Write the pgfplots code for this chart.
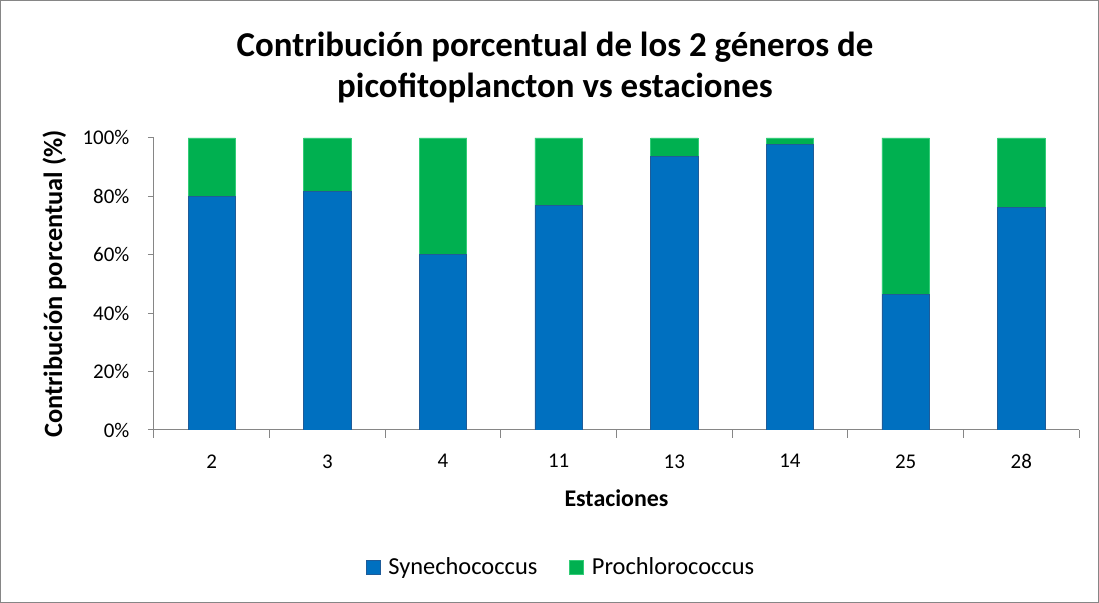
\documentclass[border=0pt]{standalone}
\usepackage{pgfplots}
\pgfplotsset{compat=1.18}
\usepackage{fontspec}
\setmainfont{Carlito}
\definecolor{synblue}{HTML}{0070C0}
\definecolor{synedge}{HTML}{1F5C99}
\definecolor{progreen}{HTML}{00B050}
\definecolor{proedge}{HTML}{33CC77}
\definecolor{axgray}{HTML}{868686}
\begin{document}
\begin{tikzpicture}
\draw[axgray, line width=0.8bp] (0.5bp,0.5bp) rectangle (1098.5bp,602.5bp);
\node[font=\fontsize{35}{41}\selectfont\bfseries, align=center, anchor=center] at (555bp,535bp) {Contribución porcentual de los 2 géneros de\\picofitoplancton vs estaciones};
\begin{axis}[
  at={(154bp,173bp)}, anchor=south west,
  scale only axis, width=925bp, height=292bp,
  ybar stacked, bar width=0.41,
  xmin=-0.5, xmax=7.5, ymin=0, ymax=100,
  xtick={0,...,7}, xticklabels={2,3,4,11,13,14,25,28},
  minor xtick={-0.5,0.5,...,7.5},
  ytick={0,20,...,100},
  yticklabel={\pgfmathprintnumber{\tick}\%},
  /pgf/number format/assume math mode=true,
  axis x line*=bottom, axis y line*=left,
  axis line style={axgray, line width=1bp, -},
  x axis line style={-}, y axis line style={-},
  major x tick style={draw=none},
  minor tick style={axgray, line width=1bp},
  major y tick style={axgray, line width=1bp},
  tick align=outside, major tick length=6bp, minor tick length=8bp,
  tick label style={font=\fontsize{21}{25}\selectfont, text=black},
  xticklabel style={yshift=-15bp},
  yticklabel style={xshift=-15bp},
  xlabel={Estaciones},
  ylabel={Contribución porcentual (\%)},
  xlabel style={font=\fontsize{24}{28}\selectfont\bfseries, at={(axis description cs:0.5,-0.233)}, anchor=center},
  ylabel style={font=\fontsize{26.5}{30}\selectfont\bfseries, at={(axis description cs:-0.1076,0.5)}, anchor=center},
  legend style={at={(axis description cs:0.440,-0.469)}, anchor=center, draw=none, legend columns=2,
    font=\fontsize{24.5}{28}\selectfont, /tikz/every even column/.append style={column sep=30bp}},
  legend image code/.code={\fill[#1] (0bp,-7bp) rectangle (14bp,7bp); \path (20bp,0bp);},
]
\addplot[fill=synblue, draw=synedge, line width=0.6bp] coordinates {(0,80.1) (1,81.8) (2,60.1) (3,76.9) (4,93.7) (5,97.8) (6,46.3) (7,76.3)};
\addplot[fill=progreen, draw=proedge, line width=0.6bp] coordinates {(0,19.9) (1,18.2) (2,39.9) (3,23.1) (4,6.3) (5,2.2) (6,53.7) (7,23.7)};
\legend{Synechococcus, Prochlorococcus}
\end{axis}
\end{tikzpicture}
\end{document}
